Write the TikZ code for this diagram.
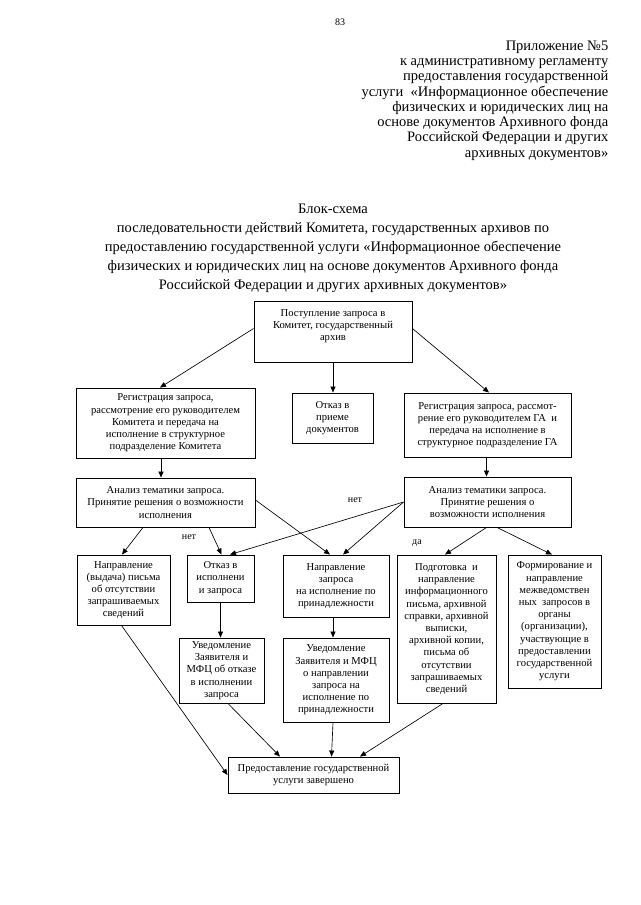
\documentclass[tikz,border=0pt]{standalone}
\usepackage{fontspec}
\setmainfont{Liberation Serif}
\usetikzlibrary{arrows.meta}
\begin{document}
\begin{tikzpicture}[x=1pt,y=-1pt,
  box/.style={draw, line width=0.9pt, inner sep=0pt, align=center, font=\fontsize{10.6}{12.2}\selectfont},
  btxt/.style={inner sep=0pt, align=center, font=\fontsize{10.6}{12.2}\selectfont},
  con/.style={line width=0.65pt, -{Triangle[length=6pt,width=5pt]}},
  lbl/.style={inner sep=0pt, font=\fontsize{10}{12}\selectfont}]
\useasboundingbox (0,0) rectangle (640,905);

\node[lbl] (pnum) at (340,22) {83};
\node[anchor=north east, align=right, inner sep=0pt, font=\fontsize{14.5}{15.3}\selectfont] (hdr) at (608.5,40.5)
 {Приложение №5\\к административному регламенту\\предоставления государственной\\услуги\ \ «Информационное обеспечение\\физических и юридических лиц на\\основе документов Архивного фонда\\Российской Федерации и других\\архивных документов»};

\node[anchor=north, align=center, inner sep=0pt, font=\fontsize{14.5}{19}\selectfont] (title) at (333,204)
 {Блок-схема\\последовательности действий Комитета, государственных архивов по\\предоставлению государственной услуги «Информационное обеспечение\\физических и юридических лиц на основе документов Архивного фонда\\Российской Федерации и других архивных документов»};

% boxes
\node[box, minimum width=158pt, minimum height=61pt] (start) at (333,331.5) {};
\node[btxt] (starttxt) at (333,326) {Поступление запроса в\\Комитет, государственный\\архив};

\node[box, minimum width=179pt, minimum height=70pt] (regK) at (165.5,423)
 {Регистрация запроса,\\рассмотрение его руководителем\\Комитета и передача на\\исполнение в структурное\\подразделение Комитета};
\node[box, minimum width=81pt, minimum height=50pt] (otkaz1) at (332.5,418)
 {Отказ в\\приеме\\документов};
\node[box, minimum width=167pt, minimum height=64pt] (regGA) at (487.5,425)
 {Регистрация запроса, рассмот-\\рение его руководителем ГА\ \ и\\передача на исполнение в\\структурное подразделение ГА};

\node[box, minimum width=179pt, minimum height=49pt] (anK) at (165.5,502.5)
 {Анализ тематики запроса.\\Принятие решения о возможности\\исполнения};
\node[box, minimum width=167pt, minimum height=50pt] (anGA) at (487.5,502)
 {Анализ тематики запроса.\\Принятие решения о\\возможности исполнения};

\node[box, minimum width=93pt, minimum height=70pt] (A) at (123.5,590)
 {Направление\\(выдача) письма\\об отсутствии\\запрашиваемых\\сведений};
\node[box, minimum width=67pt, minimum height=47pt] (B) at (220.5,578.5)
 {Отказ в\\исполнени\\и запроса};
\node[box, minimum width=106pt, minimum height=62pt] (C) at (336,586)
 {Направление\\запроса\\на исполнение по\\принадлежности};
\node[box, minimum width=99pt, minimum height=148pt] (D) at (446.5,629)
 {Подготовка\ \ и\\направление\\информационного\\письма, архивной\\справки, архивной\\выписки,\\архивной копии,\\письма об\\отсутствии\\запрашиваемых\\сведений};
\node[box, minimum width=93pt, minimum height=133pt] (E) at (554.5,621.5)
 {Формирование и\\направление\\межведомствен\\ных\ \ запросов в\\органы\\(организации),\\участвующие в\\предоставлении\\государственной\\услуги};

\node[box, minimum width=85pt, minimum height=65pt] (F) at (221.5,670.5)
 {Уведомление\\Заявителя и\\МФЦ об отказе\\в исполнении\\запроса};
\node[box, minimum width=106pt, minimum height=84pt] (G) at (336,680)
 {Уведомление\\Заявителя и МФЦ\\о направлении\\запроса на\\исполнение по\\принадлежности};

\node[box, minimum width=171pt, minimum height=36pt] (fin) at (313.5,775)
 {Предоставление государственной\\услуги завершено};

% connectors
\draw[con] ([yshift=3pt]start.west) -- ([xshift=-5.5pt]regK.north);
\draw[con] (start.south) -- (start.south |- otkaz1.north);
\draw[con] ([yshift=3pt]start.east) -- ([xshift=1.5pt]regGA.north);
\draw[con] ([xshift=-4.5pt]regK.south) -- ([xshift=-4.5pt]anK.north);
\draw[con] ([xshift=-1pt]regGA.south) -- ([xshift=-1pt]anGA.north);

\draw[con] ([xshift=-22.5pt]anK.south) -- ([xshift=-1.5pt]A.north);
\draw[con] ([xshift=43.5pt]anK.south) -- ([xshift=1pt]B.north);
\draw[con] ([yshift=2.5pt]anK.east) -- ([xshift=-6pt]C.north);
\draw[con] (anGA.west) -- ([xshift=9.5pt]B.north);
\draw[con] (anGA.west) -- ([xshift=7pt]C.north);
\draw[con] ([xshift=-1pt]anGA.south) -- ([xshift=-1.5pt]D.north);
\draw[con] ([xshift=9.5pt]anGA.south) -- ([xshift=-2.5pt]E.north);

\draw[con] (B.south) -- (B.south |- F.north);
\draw[con] ([xshift=-3pt]C.south) -- ([xshift=-3pt]G.north);

\draw[con] ([xshift=-2pt]A.south) -- (fin.west);
\draw[con] ([xshift=6.5pt]F.south) -- ([xshift=-33.5pt]fin.north);
\draw[con] ([xshift=-3pt]G.south) -- ([xshift=18pt]fin.north);
\draw[con] ([xshift=-3.5pt]D.south) -- ([xshift=46.5pt]fin.north);

\node[lbl] (net1) at (355,500) {нет};
\node[lbl] (net2) at (189,537) {нет};
\node[lbl] (da) at (417,543) {да};
\end{tikzpicture}
\end{document}
